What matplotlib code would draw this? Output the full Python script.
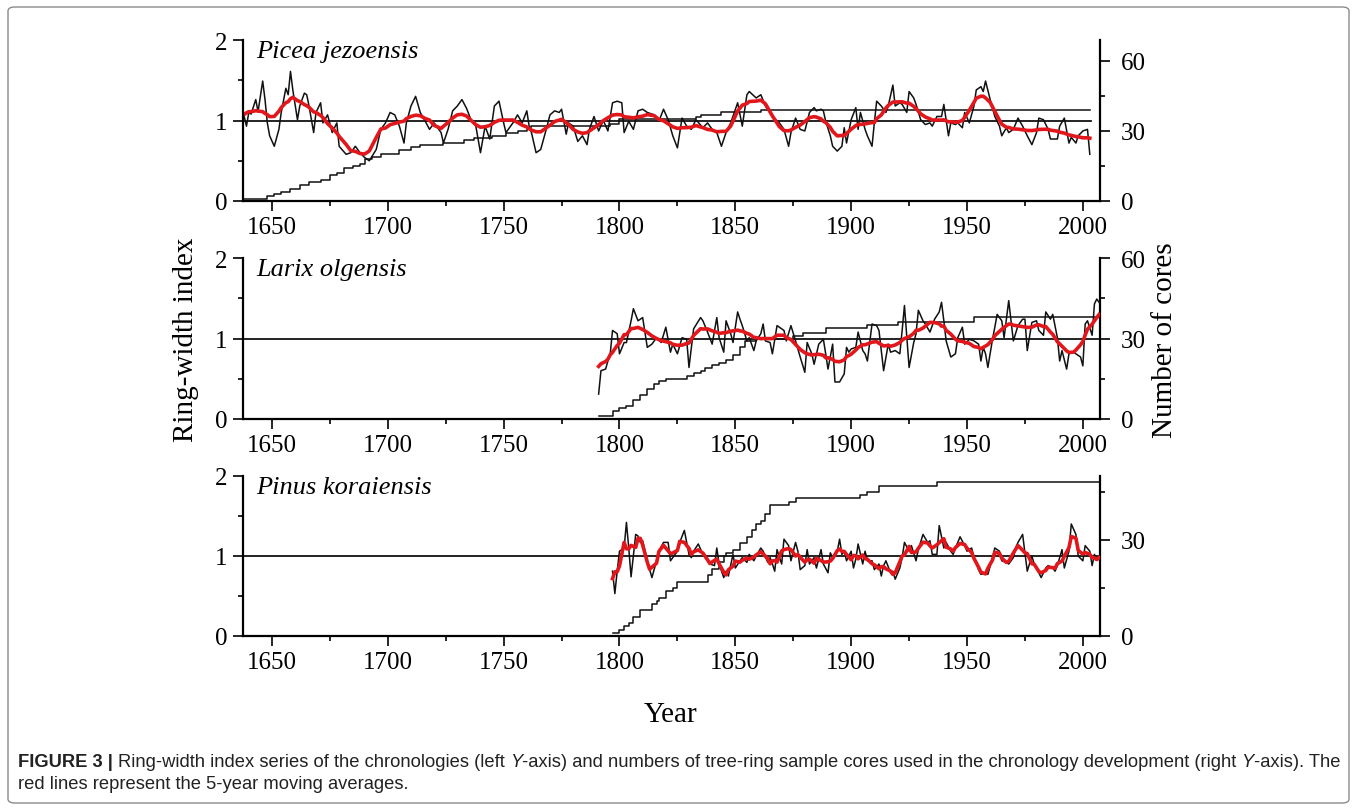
import numpy as np
import matplotlib
matplotlib.use("Agg")
import matplotlib.pyplot as plt
from matplotlib.patches import FancyBboxPatch
from matplotlib import font_manager

# Picea jezoensis - ring-width index
picea_years = [
    1638, 1639, 1640, 1641, 1643, 1644, 1646, 1647, 1648, 1649,
    1651, 1653, 1654, 1656, 1657, 1658, 1659, 1661, 1662, 1664,
    1665, 1666, 1668, 1669, 1671, 1672, 1674, 1676, 1678, 1679,
    1682, 1684, 1686, 1688, 1690, 1692, 1695, 1697, 1699, 1701,
    1703, 1705, 1707, 1708, 1710, 1712, 1714, 1716, 1718, 1720,
    1723, 1724, 1726, 1728, 1730, 1732, 1734, 1736, 1738, 1740,
    1742, 1744, 1746, 1748, 1750, 1751, 1754, 1756, 1758, 1760,
    1761, 1762, 1764, 1766, 1768, 1770, 1772, 1774, 1775, 1777,
    1778, 1780, 1782, 1784, 1786, 1787, 1789, 1791, 1793, 1795,
    1797, 1799, 1801, 1802, 1804, 1806, 1808, 1810, 1812, 1815,
    1817, 1819, 1821, 1823, 1825, 1827, 1829, 1831, 1833, 1836,
    1838, 1840, 1842, 1844, 1846, 1848, 1851, 1853, 1855, 1856,
    1859, 1861, 1863, 1866, 1869, 1871, 1873, 1874, 1876, 1878,
    1880, 1882, 1884, 1885, 1887, 1888, 1889, 1891, 1892, 1894,
    1896, 1897, 1898, 1900, 1902, 1903, 1904, 1906, 1907, 1909,
    1910, 1911, 1913, 1915, 1916, 1918, 1919, 1921, 1922, 1924,
    1925, 1927, 1928, 1930, 1932, 1934, 1935, 1937, 1939, 1940,
    1942, 1943, 1945, 1946, 1948, 1949, 1951, 1953, 1954, 1956,
    1957, 1958, 1960, 1962, 1964, 1965, 1967, 1968, 1970, 1972,
    1974, 1976, 1978, 1980, 1981, 1983, 1985, 1986, 1989, 1990,
    1992, 1994, 1995, 1997, 1998, 2000, 2002, 2003,
]
picea_rwi = [
    1.05, 0.93, 1.10, 1.08, 1.26, 1.11, 1.49, 1.26, 0.97, 0.81,
    0.68, 0.89, 1.10, 1.40, 1.32, 1.61, 1.38, 1.01, 1.18, 1.34,
    1.32, 1.18, 0.85, 1.10, 1.22, 0.97, 1.07, 0.85, 0.97, 0.68,
    0.58, 0.60, 0.68, 0.60, 0.54, 0.50, 0.64, 0.89, 0.97, 1.10,
    1.07, 0.93, 0.72, 0.97, 1.18, 1.30, 1.10, 1.00, 0.89, 0.97,
    0.85, 0.72, 0.89, 1.12, 1.18, 1.26, 1.15, 1.00, 0.93, 0.60,
    0.93, 0.77, 1.18, 1.24, 0.97, 0.85, 0.97, 1.07, 0.97, 1.12,
    0.93, 0.85, 0.60, 0.64, 0.85, 1.07, 1.12, 1.10, 1.14, 0.83,
    0.97, 0.93, 0.74, 0.81, 0.70, 0.89, 1.05, 0.87, 1.00, 0.87,
    1.22, 1.24, 1.22, 0.85, 0.99, 0.89, 1.12, 1.14, 1.10, 1.07,
    0.99, 1.14, 1.01, 0.81, 0.66, 1.03, 0.93, 0.89, 1.01, 0.91,
    0.97, 0.89, 0.85, 0.68, 0.85, 0.97, 1.22, 0.93, 1.32, 1.36,
    1.28, 1.32, 1.18, 1.05, 0.97, 0.89, 0.68, 0.85, 1.03, 0.89,
    0.87, 1.10, 1.16, 1.12, 1.14, 1.12, 0.99, 0.81, 0.68, 0.62,
    0.68, 0.91, 0.72, 1.01, 1.16, 0.89, 1.10, 0.89, 0.81, 0.68,
    0.97, 1.24, 1.18, 1.10, 1.18, 1.44, 1.18, 1.22, 1.20, 1.10,
    1.36, 1.28, 1.20, 1.01, 0.95, 0.97, 0.93, 1.05, 1.05, 1.20,
    0.81, 0.97, 0.95, 0.97, 0.91, 1.10, 0.97, 1.18, 1.38, 1.42,
    1.36, 1.49, 1.26, 1.05, 0.93, 0.81, 0.91, 0.85, 0.89, 1.03,
    0.93, 0.81, 0.70, 0.85, 1.03, 1.01, 0.89, 0.77, 0.77, 0.93,
    1.03, 0.72, 0.79, 0.72, 0.81, 0.87, 0.89, 0.58,
]
picea_depth_years = [1638, 1648, 1651, 1654, 1658, 1662, 1666, 1671, 1675, 1678,
                     1681, 1685, 1688, 1690, 1693, 1697, 1705, 1710, 1714, 1724,
                     1733, 1737, 1745, 1751, 1756, 1760, 1762, 1796, 1800, 1833,
                     1835, 1844, 1861, 2003]
picea_cores = [1, 2, 3, 4, 5, 7, 8, 9, 11, 12,
               14, 15, 16, 18, 19, 20, 22, 23, 24, 25,
               26, 27, 28, 29, 30, 31, 32, 33, 35, 36,
               37, 38, 39, 39]

# Larix olgensis
larix_years = [
    1791, 1792, 1794, 1795, 1796, 1797, 1799, 1800, 1802, 1803,
    1805, 1806, 1808, 1810, 1812, 1814, 1816, 1818, 1820, 1822,
    1823, 1825, 1827, 1829, 1830, 1832, 1835, 1836, 1838, 1840,
    1842, 1843, 1845, 1846, 1848, 1849, 1851, 1852, 1853, 1855,
    1856, 1858, 1859, 1861, 1862, 1863, 1865, 1866, 1868, 1871,
    1872, 1874, 1876, 1878, 1880, 1881, 1883, 1884, 1886, 1888,
    1889, 1890, 1892, 1893, 1895, 1897, 1898, 1899, 1900, 1902,
    1903, 1905, 1906, 1907, 1909, 1911, 1912, 1914, 1916, 1917,
    1919, 1921, 1922, 1923, 1925, 1927, 1928, 1929, 1931, 1932,
    1934, 1936, 1938, 1939, 1940, 1941, 1943, 1945, 1946, 1948,
    1949, 1951, 1953, 1955, 1956, 1957, 1958, 1959, 1961, 1962,
    1963, 1965, 1966, 1968, 1969, 1970, 1972, 1974, 1975, 1976,
    1978, 1980, 1981, 1983, 1984, 1986, 1987, 1989, 1990, 1991,
    1993, 1994, 1996, 1997, 1999, 2000, 2001, 2002, 2004, 2005,
    2006, 2007,
]
larix_rwi = [
    0.31, 0.60, 0.62, 0.72, 0.81, 1.10, 1.06, 0.81, 0.95, 0.95,
    1.22, 1.37, 1.22, 1.26, 0.89, 0.93, 1.01, 0.95, 1.14, 0.83,
    0.93, 0.81, 1.01, 0.99, 0.64, 1.12, 1.26, 1.22, 1.08, 0.93,
    1.26, 1.01, 0.83, 1.22, 1.06, 0.95, 1.33, 1.24, 1.16, 0.97,
    1.01, 0.85, 0.97, 1.06, 1.18, 0.97, 0.95, 0.81, 1.16, 1.10,
    0.97, 1.16, 0.97, 0.77, 0.58, 0.95, 0.81, 0.68, 0.93, 0.99,
    0.81, 0.62, 0.93, 0.46, 0.46, 0.56, 0.89, 0.83, 0.87, 0.89,
    1.08, 0.85, 0.81, 0.72, 1.18, 1.16, 1.10, 0.60, 0.93, 0.83,
    0.85, 0.81, 1.10, 1.41, 0.64, 0.95, 1.06, 1.35, 1.22, 1.18,
    1.08, 1.24, 1.33, 1.45, 1.22, 0.97, 0.77, 0.81, 1.01, 1.14,
    0.93, 0.99, 0.97, 0.93, 0.72, 0.89, 0.81, 0.64, 0.99, 1.14,
    1.30, 1.22, 1.01, 1.47, 1.22, 0.97, 1.16, 1.24, 1.24, 0.85,
    1.20, 1.22, 1.10, 1.04, 1.33, 1.24, 1.30, 1.01, 0.72, 0.85,
    0.62, 0.81, 0.83, 0.81, 0.77, 0.66, 1.18, 1.22, 1.04, 1.43,
    1.49, 1.45,
]
larix_depth_years = [1791, 1797, 1800, 1803, 1806, 1809, 1812, 1815, 1817, 1820,
                     1829, 1832, 1835, 1837, 1840, 1843, 1846, 1849, 1852, 1854,
                     1859, 1875, 1879, 1889, 1907, 1920, 1953, 2007]
larix_cores = [1, 3, 4, 5, 7, 9, 11, 13, 14, 15,
               16, 17, 18, 19, 20, 21, 22, 24, 27, 29,
               30, 31, 32, 34, 35, 36, 38, 38]

# Pinus koraiensis
pinus_years = [
    1797, 1798, 1799, 1800, 1802, 1803, 1804, 1805, 1807, 1808,
    1809, 1810, 1812, 1813, 1814, 1816, 1817, 1819, 1821, 1822,
    1823, 1825, 1826, 1828, 1830, 1831, 1832, 1834, 1836, 1838,
    1839, 1841, 1842, 1843, 1845, 1846, 1847, 1849, 1850, 1852,
    1853, 1855, 1856, 1858, 1859, 1861, 1862, 1864, 1865, 1866,
    1867, 1868, 1870, 1871, 1873, 1874, 1876, 1877, 1878, 1880,
    1881, 1882, 1884, 1885, 1887, 1888, 1890, 1891, 1892, 1894,
    1895, 1896, 1897, 1898, 1900, 1901, 1902, 1903, 1905, 1906,
    1907, 1909, 1910, 1912, 1913, 1914, 1915, 1917, 1918, 1919,
    1921, 1922, 1923, 1925, 1926, 1928, 1929, 1931, 1933, 1934,
    1935, 1937, 1938, 1940, 1941, 1943, 1944, 1945, 1947, 1949,
    1950, 1952, 1953, 1955, 1956, 1958, 1959, 1961, 1962, 1964,
    1965, 1967, 1968, 1970, 1971, 1972, 1974, 1975, 1976, 1978,
    1979, 1981, 1982, 1984, 1985, 1987, 1988, 1989, 1991, 1992,
    1994, 1995, 1997, 1998, 2000, 2001, 2003, 2004, 2005, 2006,
    2007,
]
pinus_rwi = [
    0.81, 0.53, 0.81, 1.06, 1.10, 1.42, 1.10, 0.74, 1.27, 1.25,
    1.17, 1.19, 0.94, 0.83, 0.73, 0.94, 1.06, 1.17, 1.17, 0.94,
    0.98, 1.06, 1.17, 1.32, 1.02, 0.98, 1.06, 1.15, 1.02, 0.94,
    0.90, 0.88, 1.10, 0.90, 0.73, 0.81, 0.75, 1.02, 0.85, 0.94,
    0.98, 0.92, 1.02, 0.94, 1.00, 1.10, 1.06, 0.92, 0.98, 0.90,
    0.81, 1.08, 0.90, 1.21, 1.13, 0.94, 1.17, 1.06, 0.83, 0.88,
    1.08, 0.90, 0.98, 0.85, 1.08, 0.90, 0.79, 1.04, 0.98, 1.06,
    1.21, 1.02, 1.06, 0.94, 1.06, 0.85, 0.96, 1.15, 0.90, 1.06,
    0.94, 0.94, 0.83, 0.90, 0.75, 0.88, 0.94, 0.79, 0.81, 0.71,
    0.85, 0.98, 1.17, 1.06, 1.13, 0.94, 1.08, 1.27, 1.17, 1.19,
    1.02, 1.02, 1.38, 1.10, 1.17, 1.06, 1.02, 1.10, 1.24, 1.13,
    1.06, 1.10, 0.98, 0.83, 0.77, 0.79, 0.77, 0.98, 1.10, 1.06,
    0.94, 0.92, 0.90, 0.98, 1.10, 1.17, 1.27, 1.04, 0.81, 1.00,
    0.90, 0.79, 0.73, 0.85, 0.88, 0.85, 0.81, 0.88, 1.08, 0.85,
    1.06, 1.40, 1.27, 1.00, 0.94, 1.13, 1.06, 0.88, 1.02, 0.96,
    0.96,
]
pinus_depth_years = [1797, 1800, 1802, 1804, 1806, 1809, 1814, 1816, 1817, 1820,
                     1823, 1825, 1838, 1840, 1843, 1845, 1846, 1849, 1852, 1855,
                     1857, 1859, 1861, 1863, 1865, 1873, 1876, 1904, 1907, 1912,
                     1937, 2007]
pinus_cores = [1, 2, 3, 4, 6, 8, 10, 11, 12, 14,
               15, 17, 19, 21, 23, 25, 26, 27, 29, 31,
               33, 35, 36, 38, 41, 42, 43, 44, 45, 47,
               48, 48]

species = ["Picea jezoensis", "Larix olgensis", "Pinus koraiensis"]

RED = "#e1171c"
SERIF = "Liberation Serif"


def moving_average(years, vals, half, passes):
    # centred running mean over +/- half years
    y = np.asarray(years, float)
    out = np.asarray(vals, float)
    for _ in range(passes):
        out = np.array([out[np.abs(y - t) <= half].mean() for t in y])
    return out


def draw_panel(ax, years, vals, half, passes, d_years, d_cores, rmax, rticks, name, line_end):
    tw = ax.twinx()
    tw.step(d_years, d_cores, where="post", color="#111111", lw=1.1)
    ax.set_zorder(tw.get_zorder() + 1)
    ax.patch.set_visible(False)

    ax.plot([1637.5, line_end], [1, 1], color="#111111", lw=1.3)
    ax.plot(years, vals, color="#111111", lw=1.1)
    ax.plot(years, moving_average(years, vals, half, passes), color=RED, lw=2.6)

    ax.set_xlim(1637.5, 2007.4)
    ax.set_ylim(0, 2)
    ax.set_xticks(range(1650, 2001, 50))
    ax.set_xticks(range(1675, 2000, 50), minor=True)
    ax.set_yticks([0, 1, 2])
    ax.set_yticks([0.5, 1.5], minor=True)
    ax.set_yticklabels(["0", "1", "2"])
    tw.set_ylim(0, rmax)
    tw.set_yticks(rticks)
    tw.set_yticks([15, 45], minor=True)

    for a in (ax, tw):
        a.spines["top"].set_visible(False)
        for s in a.spines.values():
            s.set_linewidth(1.6)
        a.tick_params(which="major", direction="out", length=7, width=1.2,
                      labelsize=18, pad=4)
        a.tick_params(which="minor", direction="out", length=3.8, width=1.2)
        for lab in a.get_xticklabels() + a.get_yticklabels():
            lab.set_fontfamily(SERIF)
    ax.spines["right"].set_visible(False)
    tw.spines["left"].set_visible(False)
    tw.spines["bottom"].set_visible(False)
    tw.tick_params(pad=8)

    ax.text(0.015, 1.0, name, transform=ax.transAxes, ha="left", va="top",
            fontsize=19, style="italic", fontfamily=SERIF)


fig = plt.figure(figsize=(13.57, 8.12), dpi=100)
W, H = 1357, 812


def axes_at(left, top, right, bottom):
    return fig.add_axes([left / W, 1 - bottom / H, (right - left) / W, (bottom - top) / H])


ax1 = axes_at(243, 41, 1100, 202)
ax2 = axes_at(243, 259, 1100, 420)
ax3 = axes_at(243, 477, 1100, 637)

draw_panel(ax1, picea_years, picea_rwi, 4, 2, picea_depth_years, picea_cores,
           69, [0, 30, 60], species[0], 2003.3)
draw_panel(ax2, larix_years, larix_rwi, 4, 2, larix_depth_years, larix_cores,
           60, [0, 30, 60], species[1], 2007.4)
draw_panel(ax3, pinus_years, pinus_rwi, 2.5, 1, pinus_depth_years, pinus_cores,
           50, [0, 30], species[2], 2007.4)

fig.text(186 / W, 1 - 340 / H, "Ring-width index", rotation=90, ha="center", va="center",
         fontsize=21, fontfamily=SERIF)
fig.text(1165 / W, 1 - 340 / H, "Number of cores", rotation=90, ha="center", va="center",
         fontsize=21, fontfamily=SERIF)
fig.text(671 / W, 1 - 715 / H, "Year", ha="center", va="center",
         fontsize=21, fontfamily=SERIF)

# frame round the figure
frame = FancyBboxPatch((8 / W, 8 / H), (W - 16) / W, (H - 16) / H,
                       boxstyle="round,pad=0,rounding_size=0.005",
                       transform=fig.transFigure, fill=False,
                       edgecolor="#8a8a8a", lw=1.0)
fig.patches.append(frame)

# caption with mixed styles
names = {f.name for f in font_manager.fontManager.ttflist}
cap_font = "Liberation Sans Narrow" if "Liberation Sans Narrow" in names else "Liberation Sans"
line1 = [("FIGURE 3 | ", "bold", "normal"),
         ("Ring-width index series of the chronologies (left ", "normal", "normal"),
         ("Y", "normal", "italic"),
         ("-axis) and numbers of tree-ring sample cores used in the chronology development (right ",
          "normal", "normal"),
         ("Y", "normal", "italic"),
         ("-axis). The", "normal", "normal")]
line2 = [("red lines represent the 5-year moving averages.", "normal", "normal")]

renderer = fig.canvas.get_renderer()


def place_line(pieces, y_px, size):
    x = 18
    texts = []
    for s, wgt, sty in pieces:
        t = fig.text(x / W, 1 - y_px / H, s, ha="left", va="center", fontsize=size,
                     fontweight=wgt, style=sty, fontfamily=cap_font, color="#222222")
        bb = t.get_window_extent(renderer)
        x += bb.width
        texts.append(t)
    return x, texts


end, trial = place_line(line1, 763, 12)
for t in trial:
    t.remove()
size = min(12 * 1320 / (end - 18), 15)
place_line(line1, 763, size)
place_line(line2, 785, size)

fig.savefig("out.png", dpi=100)
